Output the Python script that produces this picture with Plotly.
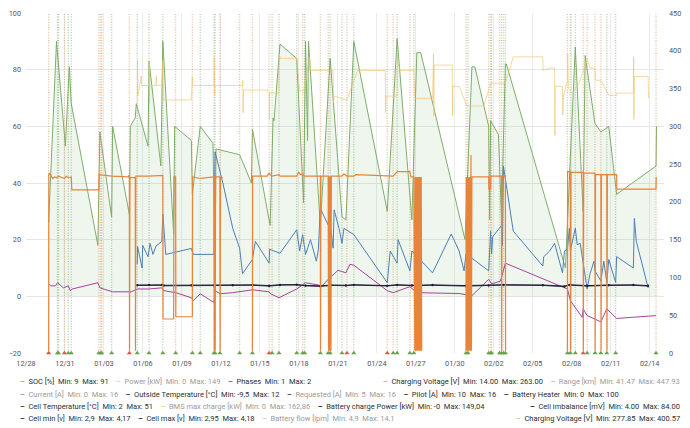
import plotly.graph_objects as go
import pandas as pd

BASE = pd.Timestamp("2023-12-28")

# ---------------- data (time = days since 2023-12-28) ----------------
soc_day = [1.742, 2.348, 3.030, 3.333, 3.485, 5.530, 5.682, 6.591, 6.667, 7.955, 8.030, 8.409, 8.485, 9.394, 9.470,
           10.379, 10.530, 11.364, 11.439, 12.727, 12.803, 13.409, 14.394, 14.545, 14.621, 16.439, 17.348, 17.424,
           18.788, 19.015, 19.091, 19.545, 20.833, 21.364, 21.515, 21.667, 21.742, 22.652, 23.409, 24.318, 24.621,
           25.227, 27.803, 28.561, 29.697, 30.076, 30.379, 33.788, 34.318, 34.545, 35.606, 35.682, 35.758, 36.364,
           36.591, 36.894, 36.970, 41.515, 42.273, 42.879, 43.030, 43.788, 44.242, 44.848, 45.455, 48.485, 48.523]
soc_val = [26, 90, 53, 81, 68, 18, 58, 28, 60, 29, 60, 63, 68, 53, 83, 46, 90, 22, 60, 55, 36, 60, 54, 9, 52,
           50, 40, 59, 25, 63, 62, 89, 84, 33, 90, 55, 90, 25, 84, 28, 27, 90, 30, 91, 27, 86, 86, 20, 81, 81,
           60, 27, 62, 57, 28, 82, 82, 10, 88, 30, 85, 61, 58, 60, 36, 46, 60]

cv_day = [1.742, 1.758, 1.894, 2.045, 2.197, 2.348, 2.500, 2.879, 2.955, 3.106, 3.258, 3.485, 3.523, 5.606, 5.629,
          6.591, 7.879, 7.955, 7.970, 8.000, 8.409, 8.424, 8.455, 9.470, 10.455, 10.530, 10.545, 11.364, 11.379,
          11.515, 11.530, 12.803, 12.818, 13.409, 14.470, 14.485, 14.515, 14.545, 14.561, 14.591, 14.924, 14.939,
          14.970, 15.152, None,
          17.424, 17.439, 18.561, 18.712, 18.788, 18.939, 19.470, 19.545, 20.833, 20.985, 21.136, 21.288, 21.439,
          22.652, 22.667, 22.697, 23.258, 23.288, 23.318, 23.348, 23.379, 23.409, 23.439, 23.470, 23.500, 24.318,
          24.470, 24.697, 25.227, 25.379, 28.258, 28.576, 29.545, 29.621, 29.848, 29.924, 29.962, 30.000, 30.038,
          30.076, 30.114, 30.152, 30.189, 30.227, 30.265, 30.303, 30.341, 30.379, 30.417, 30.455, None,
          33.864, 33.879, 33.902, 33.939, 33.977, 34.015, 34.053, 34.091, 34.129, 34.167, 34.205, 34.242, 34.280,
          34.318, 35.606, 35.621, 35.758, 35.773, 36.591, 36.606, 36.636, 36.894, 36.909, None,
          41.667, 41.682, 41.894, 41.909, 41.939, 42.879, 42.894, 42.924, 43.788, 43.803, 43.833, 44.242, 44.258,
          44.288, 44.697, 44.712, 44.742, 45.455, 45.470, 48.485, 48.500]
cv_val = [3, 238, 236, 231, 233, 232, 234, 232, 231, 234, 232, 233, 216, 216, 236, 234, 233, 236, 3, 232,
          232, 3, 234, 234, 235, 235, 45, 45, 233, 233, 48, 48, 233, 231, 233, 3, 233, 233, 3, 233,
          233, 3, 232, 232, None,
          3, 234, 234, 238, 236, 234, 236, 234, 234, 239, 236, 237, 234, 234, 3, 234, 234, 3, 234, 3,
          234, 3, 234, 3, 234, 234, 237, 234, 234, 236, 234, 240, 240, 233, 233, 3, 233, 3, 233, 3,
          233, 3, 233, 3, 233, 3, 233, 3, 233, 3, None,
          3, 233, 3, 233, 3, 233, 3, 233, 3, 233, 3, 262, 3, 233, 233, 217, 217, 234, 234, 3,
          234, 234, 3, None,
          3, 240, 240, 3, 239, 239, 3, 238, 238, 3, 236, 236, 3, 236, 236, 3, 236, 236, 217, 217, 233]

cv2_day = [8.561, 8.583, 8.606, 8.864, 8.902, 9.470, 9.485, 9.508, 9.530, 10.000, 10.023, 10.053, 10.455, 10.530,
           10.553, 12.727, 12.803, 12.826, 14.470, 14.492, 14.515, 14.545, 15.909, 16.667, 16.682, 16.705, 16.742,
           18.561, 18.712, 18.735, 18.758, 19.470, 19.492, 19.545, 20.833, 21.061, 21.364, 21.818, 21.894, 22.576,
           23.636, 23.659, 23.712, 24.621, 24.697, 25.530, 27.652, 27.674, 27.727, 28.561, 28.583, 28.636, 28.788,
           29.848, 29.924, 31.288, 31.364, 31.386, 31.409, 32.803, 32.826, 32.848, 33.333, 33.939, 35.227, 35.758,
           36.894, 37.500, 39.773, 39.795, 40.303, 40.682, 40.705, 40.727, 41.288, 41.311, 41.364, 41.667, 41.689,
           41.742, 42.045, 42.576, 43.182, 43.409, 43.788, 43.811, 44.242, 44.848, 45.455, 45.477, 46.742, 46.765,
           46.788, 46.818, 47.879, 47.902]
cv2_val = [331, 387, 340, 367, 354, 354, 387, 331, 354, 354, 367, 354, 354, 387, 335, 335, 365, 354, 354, 392,
           340, 354, 354, 354, 361, 318, 348, 348, 344, 309, 344, 344, 396, 390, 390, 347, 347, 392, 374, 374,
           374, 331, 340, 335, 335, 374, 374, 318, 340, 340, 396, 383, 374, 374, 337, 337, 396, 314, 381, 381,
           314, 353, 353, 327, 327, 357, 357, 392, 392, 374, 377, 377, 288, 353, 353, 315, 340, 361, 396, 350,
           344, 357, 390, 377, 377, 361, 361, 341, 341, 344, 344, 392, 309, 366, 366, 337]

ct_day = [8.561, 8.583, 8.939, 8.977, 9.394, 9.545, 9.773, 10.000, 10.455, 10.530, 10.758, 12.727, 12.879, 14.470,
          14.545, 15.152, 15.909, 16.439, 16.667, 17.424, 17.652, 18.712, 18.750, 19.545, 20.833, 21.061, 21.288,
          21.515, 21.894, 22.348, 22.500, 22.652, 23.485, 23.636, 23.712, 24.091, 24.318, 24.470, 25.227, 27.803,
          28.030, 28.561, 28.636, 29.545, 29.697, 31.288, 32.727, 33.333, 33.712, 33.864, 35.606, 35.758, 35.833,
          35.909, 36.591, 36.667, 36.742, 37.500, 39.773, 39.848, 40.303, 40.682, 41.288, 41.439, 41.667, 41.818,
          41.894, 42.273, 42.424, 42.652, 43.182, 43.409, 43.712, 43.788, 44.242, 44.470, 44.697, 44.848, 45.379,
          45.455, 46.742, 46.818, 46.970, 47.879]
ct_val = [11.3, 17.6, 10, 18, 14, 18.7, 14.8, 17.7, 19.4, 29, 14.8, 16.9, 14.8, 14.8, 51, 40, 24, 17, 8, 13,
          19.4, 11.7, 16.6, 15.2, 23.5, 16, 21.8, 14.8, 20, 12.4, 16.6, 31, 23, 17, 30.5, 24, 18.7, 24, 21.8, 4.8,
          16, 11.7, 20, 9, 16, 8.3, 22, 16, 9, 15, 9, 23, 15, 21, 25, 18, 46, 23, 10.7, 14,
          16, 18.7, 8.3, 16, 16.6, 24, 16, 24, 18.2, 18.7, 2.6, 8, 12.4, 9, 5.4, 12.4, 4.9, 13, 4.9, 14,
          10, 27.5, 19.4, 3]

ot_day = [1.742, 1.894, 2.273, 2.424, 2.879, 3.030, 3.258, 3.409, 3.561, 5.530, 5.682, 6.667, 8.106, 8.561, 9.470,
          10.455, 10.606, 11.515, 12.727, 12.879, 13.409, 14.470, 14.545, 14.924, 15.909, 17.424, 18.712, 18.788,
          19.470, 20.833, 21.515, 22.500, 22.727, 23.258, 24.015, 24.621, 24.924, 25.227, 27.803, 28.258, 29.545,
          30.076, 33.333, 34.318, 35.606, 35.833, 36.515, 36.894, 41.667, 41.894, 42.803, 42.879, 43.182, 44.242,
          44.697, 45.455, 48.485]
ot_val = [4.4, 3.7, 3.7, 4.8, 3, 3.3, 3.7, 2, 2.6, 4.8, 3, 1.6, 1.6, 2.6, 2.6, 3, 2, 1.3, -0.5, -1.5,
          0.9, -2.2, 2, 0.9, 1.3, 2.3, 1.6, 1, -0.5, 2.6, 4.8, 4, 3.4, 6, 9.2, 8.3, 11.3, 11, 2, 1.3,
          3.4, 1.3, 1, 0.2, 6, 4.4, 5.4, 11.7, 2.6, -1.5, -7.4, -4.4, -6.8, -9, -4.4, -7.8, -6.8]

cell_day = [8.561, 9.470, 10.455, 10.606, 12.727, 14.470, 14.545, 15.909, 17.424, 18.712, 19.545, 20.833, 21.515,
            22.652, 23.485, 24.621, 25.227, 27.803, 28.561, 29.697, 31.288, 33.864, 35.606, 36.742, 39.773, 41.439,
            41.818, 43.182, 44.848, 46.742, 47.879]
cell_max = [4.0, 4.1, 4.05, 3.9, 3.95, 3.9, 4.1, 4.0, 4.05, 3.8, 4.1, 4.15, 3.85, 3.7, 4.0, 3.9, 4.1, 3.8, 4.1,
            3.9, 4.05, 3.8, 3.9, 4.1, 4.0, 3.6, 4.1, 3.8, 4.0, 4.05, 3.8]
cell_min = [3.85, 3.95, 3.9, 3.7, 3.8, 3.7, 3.95, 3.85, 3.9, 3.6, 3.95, 4.0, 3.7, 3.5, 3.85, 3.75, 3.95, 3.65,
            3.95, 3.75, 3.9, 3.6, 3.75, 3.95, 3.85, 3.4, 3.95, 3.6, 3.85, 3.9, 3.6]

# annotation events: time, line colour kind, marker kind
ann_day = [1.742, 2.424, 2.500, 2.955, 3.258, 3.485, 5.606, 5.758, 5.833, 6.591, 7.955, 8.561, 9.470, 10.530,
           11.515, 12.803, 13.409, 14.470, 14.545, 14.924, 16.439, 17.424, 18.712, 18.939, 19.470, 20.833, 21.288,
           21.439, 22.652, 23.258, 23.409, 24.318, 24.697, 25.227, 27.803, 28.258, 28.561, 29.545, 29.848, 33.864,
           34.015, 35.606, 35.758, 35.833, 36.439, 36.591, 36.742, 36.894, 41.667, 41.894, 42.273, 42.879, 43.182,
           43.788, 44.242, 44.697, 45.379, 48.485]
ann_line = ["o", "g", "g", "o", "g", "g", "o", "o", "o", "g", "o", "g", "g", "g", "o", "o", "g", "g", "g", "o",
            "o", "o", "o", "g", "g", "g", "o", "g", "o", "o", "g", "g", "o", "g", "o", "o", "g", "o", "g", "o",
            "g", "o", "g", "o", "o", "g", "o", "g", "o", "g", "g", "o", "o", "o", "o", "g", "g", "o"]
ann_mark = ["r", "g", "g", "r", "g", "g", "g", "g", "g", "g", "r", "g", "g", "g", "g", "g", "g", "g", "g", "g",
            "g", "g", "r", "g", "g", "g", "g", "g", "g", "g", "g", "g", "r", "g", "r", "g", "g", "g", "g", "g",
            "g", "g", "g", "g", "g", "g", "g", "g", "g", "g", "g", "r", "g", "g", "g", "g", "g", "g"]

x_ticks_start = "2023-12-28"
left_ticks = [-20, 0, 20, 40, 60, 80, 100]
right_ticks = [0, 50, 100, 150, 200, 250, 300, 350, 400, 450]

# legend rows: (label, dash colour, active?)
leg_rows_left = [
    [("SOC [%]  Min: 9  Max: 91", "#86b178", True), ("Power [kW]  Min: 0  Max: 149", "#efd48e", False),
     ("Phases  Min: 1  Max: 2", "#7c6396", True)],
    [("Current [A]  Min: 0  Max: 16", "#7f98b2", False),
     ("Outside Temperature [°C]  Min: -9,5  Max: 12", "#3a3a3a", True),
     ("Requested [A]  Min: 5  Max: 16", "#4a4a4a", False), ("Pilot [A]  Min: 10  Max: 16", "#333333", True),
     ("Battery Heater  Min: 0  Max: 100", "#333333", True)],
    [("Cell Temperature [°C]  Min: 2  Max: 51", "#3b3b3b", True),
     ("BMS max charge [kW]  Min: 0  Max: 162,86", "#e9d48a", False),
     ("Battery charge Power [kW]  Min: -0  Max: 149,04", "#222222", True)],
    [("Cell min [v]  Min: 2,9  Max: 4,17", "#333333", True), ("Cell max [v]  Min: 2,95  Max: 4,18", "#333333", True),
     ("Battery flow [lpm]  Min: 4,9  Max: 14,1", "#c8d6b8", False)],
]
leg_rows_right = [
    [("Charging Voltage [V]  Min: 14.00  Max: 263.00", "#d7ab70", True),
     ("Range [km]  Min: 41.47  Max: 447.93", "#a6cdb8", False)],
    [],
    [("Cell imbalance [mV]  Min: 4.00  Max: 84.00", "#222222", True)],
    [("Charging Voltage [V]  Min: 277.85  Max: 400.57", "#dcc28c", True)],
]


def T(days):
    return [None if d is None else BASE + pd.Timedelta(days=d) for d in days]


fig = go.Figure()

# SOC with fill
fig.add_trace(go.Scatter(x=T(soc_day), y=soc_val, mode="lines", name="SOC [%]",
                         line=dict(color="#7fad6c", width=1), fill="tozeroy",
                         fillcolor="rgba(126,178,109,0.12)"))

# annotation dotted lines
line_cols = {"o": "rgba(214,128,62,0.5)", "g": "rgba(104,160,80,0.5)"}
for kind in ("o", "g"):
    xs, ys = [], []
    for d, k in zip(ann_day, ann_line):
        if k == kind:
            t = BASE + pd.Timedelta(days=d)
            xs += [t, t, None]
            ys += [left_ticks[0], left_ticks[-1], None]
    fig.add_trace(go.Scatter(x=xs, y=ys, mode="lines", hoverinfo="skip", showlegend=False,
                             line=dict(color=line_cols[kind], width=1.3, dash="1px,1.6px")))

fig.add_trace(go.Scatter(x=T(cv2_day), y=cv2_val, mode="lines", name="Charging Voltage [V] 2", yaxis="y2",
                         line=dict(color="rgba(236,196,110,0.65)", width=1)))
fig.add_trace(go.Scatter(x=T(cv_day), y=cv_val, mode="lines", name="Charging Voltage [V]", yaxis="y2",
                         connectgaps=False, line=dict(color="#e8843a", width=1.2)))
fig.add_trace(go.Scatter(x=T(ct_day), y=ct_val, mode="lines", name="Cell Temperature [°C]",
                         line=dict(color="#4f7fb3", width=1)))
fig.add_trace(go.Scatter(x=T(ot_day), y=ot_val, mode="lines", name="Outside Temperature [°C]",
                         line=dict(color="#a8449c", width=1)))
fig.add_trace(go.Scatter(x=T(cell_day), y=cell_min, mode="lines+markers", name="Cell min [v]",
                         line=dict(color="#3a2d58", width=1), marker=dict(size=2, color="#3a2d58")))
fig.add_trace(go.Scatter(x=T(cell_day), y=cell_max, mode="lines+markers", name="Cell max [v]",
                         line=dict(color="#1c1c28", width=1), marker=dict(size=2, color="#1c1c28")))

# annotation markers at bottom
mark_cols = {"r": "#e0564a", "g": "#6aa04f"}
fig.add_trace(go.Scatter(x=T(ann_day), y=[left_ticks[0]] * len(ann_day), mode="markers", cliponaxis=False,
                         hoverinfo="skip", showlegend=False,
                         marker=dict(symbol="triangle-up", size=4.5, color=[mark_cols[m] for m in ann_mark])))

# legend as text
NB = "\u00a0"
DARK, LIGHT = "#2e2e2e", "#9b9b9b"


def item(label, col, active):
    lab = label.replace(" ", NB)
    return (f'<span style="color:{col}"><b>–</b></span>{NB*2}'
            f'<span style="color:{DARK if active else LIGHT}">{lab}</span>')


row_py = [382, 394.5, 407, 419.5]
PLOT_L, PLOT_W, PLOT_B, PLOT_H = 21, 647, 353, 344
annotations = []
for i, py in enumerate(row_py):
    yp = (PLOT_B - py) / PLOT_H
    if leg_rows_left[i]:
        annotations.append(dict(xref="paper", yref="paper", x=(13 - PLOT_L) / PLOT_W, y=yp,
                                xanchor="left", yanchor="middle", showarrow=False,
                                text=(NB * 4).join(item(*it) for it in leg_rows_left[i]),
                                font=dict(family="Roboto", size=7.5)))
    if leg_rows_right[i]:
        annotations.append(dict(xref="paper", yref="paper", x=(686 - PLOT_L) / PLOT_W, y=yp,
                                xanchor="right", yanchor="middle", showarrow=False,
                                text=(NB * 4).join(item(*it) for it in leg_rows_right[i]),
                                font=dict(family="Roboto", size=7.5)))

tickfont = dict(family="Roboto", size=7.3, color="#555555")
fig.update_layout(
    width=690, height=428, margin=dict(l=21, r=22, t=9, b=75),
    paper_bgcolor="white", plot_bgcolor="white", showlegend=False,
    annotations=annotations,
    xaxis=dict(type="date", range=[BASE, BASE + pd.Timedelta(days=49.1)], tick0=x_ticks_start,
               dtick=3 * 86400000, tickformat="%m/%d", showgrid=True, gridcolor="#ebebeb", gridwidth=1,
               zeroline=False, showline=False, ticks="", tickfont=tickfont, ticklabelstandoff=5),
    yaxis=dict(range=[left_ticks[0], left_ticks[-1]], tickvals=left_ticks, showgrid=True, gridcolor="#e6e6e6",
               zeroline=False, showline=False, ticks="", tickfont=tickfont, ticklabelstandoff=4),
    yaxis2=dict(range=[right_ticks[0], right_ticks[-1]], tickvals=right_ticks, overlaying="y", side="right",
                showgrid=False, zeroline=False, showline=False, ticks="", tickfont=tickfont,
                ticklabelstandoff=4),
)

fig.write_html("out.html")
